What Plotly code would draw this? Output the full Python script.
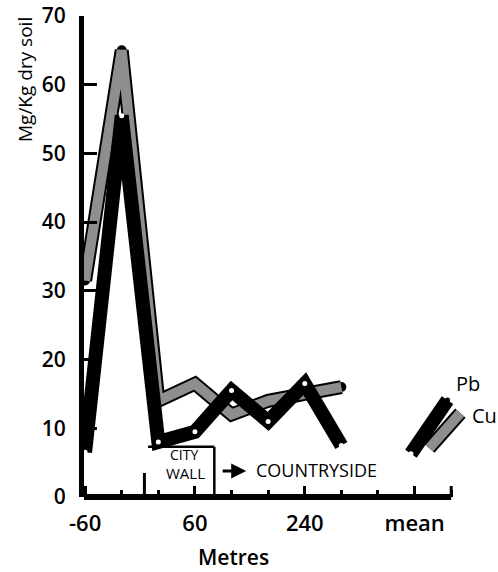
import plotly.graph_objects as go

# ---- data ----
positions = [0, 1, 2, 3, 4, 5, 6, 7]
pb_values = [6.5, 55.5, 8.0, 9.5, 15.5, 11.0, 16.5, 7.5]
cu_values = [31.5, 65.0, 14.0, 16.5, 12.0, 14.0, 15.0, 16.0]

pb_mean_pos = [8.9, 9.9]
pb_mean = [6.3, 14.1]
cu_mean_pos = [9.4, 10.25]
cu_mean = [7.1, 12.2]

tick_vals = [0, 3, 6, 9]
tick_text = ["-60", "60", "240", "mean"]

XMIN, XMAX = -0.03, 10.65
AXIS_END = 10
FONT = "Open Sans"
GREY = "#8e8e8e"

FIG_W, FIG_H = 498, 572
M_L, M_T, M_B = 84, 16, 75
PLOT_W = 391
PLOT_H = FIG_H - M_T - M_B
M_R = FIG_W - M_L - PLOT_W

def px(x):
    return (x - XMIN) / (XMAX - XMIN)

fig = go.Figure()

# Cu: black outline + grey fill
fig.add_trace(go.Scatter(x=positions, y=cu_values, mode="lines+markers",
                         line=dict(color="black", width=14),
                         marker=dict(color="black", size=10),
                         hoverinfo="skip", showlegend=False))
fig.add_trace(go.Scatter(x=positions, y=cu_values, mode="lines",
                         line=dict(color=GREY, width=10),
                         hoverinfo="skip", showlegend=False))
fig.add_trace(go.Scatter(x=cu_mean_pos, y=cu_mean, mode="lines",
                         line=dict(color="black", width=14),
                         hoverinfo="skip", showlegend=False))
fig.add_trace(go.Scatter(x=cu_mean_pos, y=cu_mean, mode="lines",
                         line=dict(color=GREY, width=10),
                         hoverinfo="skip", showlegend=False))

# Pb: thick black
fig.add_trace(go.Scatter(x=positions, y=pb_values, mode="lines+markers",
                         line=dict(color="black", width=14),
                         marker=dict(color="white", size=5, line=dict(width=0)),
                         hoverinfo="skip", showlegend=False))
fig.add_trace(go.Scatter(x=pb_mean_pos, y=pb_mean, mode="lines+markers",
                         line=dict(color="black", width=14),
                         marker=dict(color=["white", "black"], size=5, line=dict(width=0)),
                         hoverinfo="skip", showlegend=False))

shapes = [
    # x axis line (ends at the last tick)
    dict(type="line", xref="paper", yref="paper", x0=0, x1=px(AXIS_END), y0=0, y1=0,
         line=dict(color="black", width=6)),
    # end tick
    dict(type="line", xref="x", yref="y", x0=AXIS_END, x1=AXIS_END, y0=0, y1=1.6,
         line=dict(color="black", width=3)),
    # tall tick at city wall start
    dict(type="line", xref="x", yref="y", x0=1.62, x1=1.62, y0=0, y1=3.5,
         line=dict(color="black", width=3)),
    # city wall box
    dict(type="line", xref="x", yref="y", x0=1.72, x1=3.53, y0=7.3, y1=7.3,
         line=dict(color="black", width=2.5)),
    dict(type="line", xref="x", yref="y", x0=3.53, x1=3.53, y0=0, y1=7.3,
         line=dict(color="black", width=2.5)),
]

def note(text, x, y, size, xref="x", yref="y", **kw):
    d = dict(text=text, xref=xref, yref=yref, x=x, y=y, showarrow=False,
             xanchor=kw.pop("xanchor", "center"), yanchor="middle",
             font=dict(family=FONT, size=size, color="black", weight=kw.pop("weight", 400)))
    d.update(kw)
    return d

annotations = [
    note("Mg/Kg dry soil", -(M_L - 25) / PLOT_W, (PLOT_H - 64) / PLOT_H, 19,
         xref="paper", yref="paper", textangle=-90),
    note("Metres", px(4.04), -60 / PLOT_H, 21, xref="paper", yref="paper", weight=600),
    note("CITY", 2.7, 6.15, 14, weight=500),
    note("WALL", 2.73, 3.55, 15, weight=500),
    # arrow towards the countryside
    dict(text="", xref="x", yref="y", x=4.4, y=3.8, ax=-25, ay=0, showarrow=True,
         arrowhead=2, arrowsize=1, arrowwidth=3, arrowcolor="black"),
    note("COUNTRYSIDE", 4.6, 3.9, 18, xanchor="left", weight=500),
    note("Pb", px(10.45), 16.5, 20, xref="paper"),
    note("Cu", px(10.9), 11.9, 20, xref="paper"),
]

fig.update_layout(
    width=FIG_W, height=FIG_H,
    margin=dict(l=M_L, r=M_R, t=M_T, b=M_B, autoexpand=False),
    paper_bgcolor="white", plot_bgcolor="white",
    shapes=shapes, annotations=annotations,
    xaxis=dict(range=[XMIN, XMAX], showgrid=False, zeroline=False, showline=False,
               automargin=False,
               tickmode="array", tickvals=tick_vals, ticktext=tick_text,
               ticks="inside", ticklen=11, tickwidth=3, tickcolor="black",
               minor=dict(dtick=1, tick0=0, ticks="inside", ticklen=7, tickwidth=3,
                          tickcolor="black", showgrid=False),
               ticklabelstandoff=11, ticklabeloverflow="allow",
               tickfont=dict(family=FONT, size=22, color="black", weight=600)),
    yaxis=dict(range=[0, 70], showgrid=False, zeroline=False, showline=True,
               automargin=False,
               linecolor="black", linewidth=5,
               tickvals=[0, 10, 20, 30, 40, 50, 60, 70],
               ticks="inside", ticklen=13, tickwidth=3, tickcolor="black",
               ticklabelstandoff=9, ticklabeloverflow="allow",
               tickfont=dict(family=FONT, size=21, color="black", weight=600)),
)

fig.write_html("out.html", config={"displayModeBar": False},
               post_script="document.body.style.margin='0';document.body.style.padding='0';")
